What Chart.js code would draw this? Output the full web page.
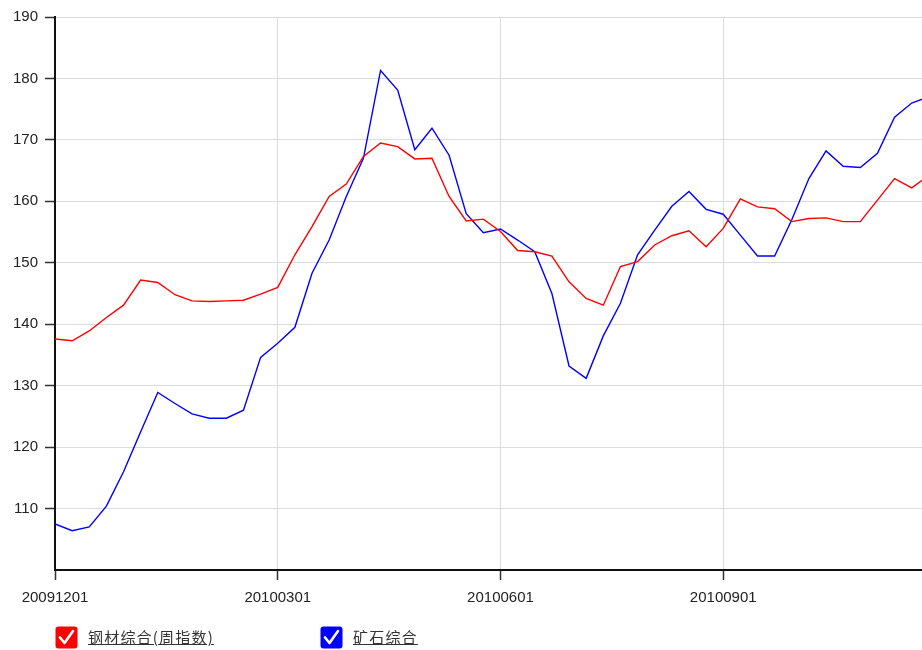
<!DOCTYPE html>
<html>
<head>
<meta charset="utf-8">
<script src="https://cdn.jsdelivr.net/npm/chart.js@4.4.1/dist/chart.umd.min.js"></script>
<style>
  html, body { margin: 0; padding: 0; background: #fff; }
  #wrap { position: relative; width: 922px; height: 650px; overflow: hidden; }
  #legend { position: absolute; left: 0; top: 0; width: 922px; height: 650px; pointer-events: none; }
  .item { position: absolute; top: 625px; height: 24px; display: flex; align-items: center; }
  .item .txt { margin-left: 10px; font-family: "Noto Sans CJK SC", sans-serif; font-size: 15px; letter-spacing: 1.2px;
               color: #333; text-decoration: underline; line-height: 24px; }
</style>
</head>
<body>
<div id="wrap">
  <canvas id="c" width="922" height="650"></canvas>
  <div id="legend"></div>
</div>
<script>
// ---- data ----
const seriesNames = ['钢材综合(周指数)', '矿石综合'];
const steelIndex = [137.6,137.3,138.9,141.1,143.1,147.2,146.8,144.8,143.8,143.7,143.8,143.9,144.9,146.0,
  151.3,155.9,160.8,162.8,167.3,169.5,168.9,166.9,167.0,160.8,156.8,157.1,155.1,152.0,151.8,151.1,
  146.9,144.2,143.1,149.4,150.2,152.9,154.4,155.2,152.6,155.6,160.4,159.1,158.8,156.7,157.2,157.3,
  156.7,156.7,160.2,163.7,162.2,164.2];
const oreIndex = [107.5,106.4,107.0,110.4,116.0,122.5,128.9,127.1,125.4,124.7,124.7,126.0,134.6,136.9,
  139.5,148.3,153.7,160.8,167.0,181.3,178.1,168.4,171.9,167.5,158.0,154.9,155.5,153.7,151.8,145.0,
  133.2,131.2,138.1,143.4,151.3,155.3,159.2,161.6,158.7,157.9,154.5,151.1,151.1,157.0,163.7,168.2,
  165.7,165.5,167.8,173.7,176.0,177.0];
const xTickIndex = [0, 13, 26, 39];
const xTickLabels = ['20091201', '20100301', '20100601', '20100901'];
const yTickValues = [110, 120, 130, 140, 150, 160, 170, 180, 190];
const xMax = 50.6;

const colors = ['#ff0000', '#0000ff'];
const tickFont = { family: 'Liberation Sans, Arial, sans-serif', size: 15 };

function toPoints(arr) { return arr.map((v, i) => ({ x: i, y: v })); }

const htmlLegend = {
  id: 'htmlLegend',
  afterUpdate(chart) {
    const box = document.getElementById('legend');
    box.innerHTML = '';
    const lefts = [55, 320];
    chart.data.datasets.forEach((ds, i) => {
      const it = document.createElement('div');
      it.className = 'item';
      it.style.left = lefts[i] + 'px';
      it.innerHTML =
        '<svg width="23" height="23" viewBox="0 0 23 23">' +
        '<rect x="0.5" y="0.5" width="22" height="22" rx="3" ry="3" fill="' + ds.borderColor + '"/>' +
        '<path d="M5 11.5 L9.5 17 L18 5" fill="none" stroke="#fff" stroke-width="2.6" stroke-linecap="round" stroke-linejoin="round"/>' +
        '</svg>';
      const t = document.createElement('span');
      t.className = 'txt';
      t.textContent = ds.label;
      it.appendChild(t);
      box.appendChild(it);
    });
  }
};

new Chart(document.getElementById('c'), {
  type: 'line',
  data: {
    datasets: [
      { label: seriesNames[0], data: toPoints(steelIndex), borderColor: colors[0], borderWidth: 1.4,
        pointRadius: 0, tension: 0, fill: false },
      { label: seriesNames[1], data: toPoints(oreIndex), borderColor: colors[1], borderWidth: 1.4,
        pointRadius: 0, tension: 0, fill: false }
    ]
  },
  options: {
    responsive: false,
    animation: false,
    events: [],
    layout: { padding: { top: 17, right: 0, left: 0, bottom: 0 } },
    plugins: { legend: { display: false }, tooltip: { enabled: false } },
    scales: {
      x: {
        type: 'linear', min: 0, max: xMax,
        afterBuildTicks: s => { s.ticks = xTickIndex.map(v => ({ value: v })); },
        afterFit: s => { s.height = 80; },
        ticks: {
          autoSkip: false, maxRotation: 0, padding: 9, color: '#222', font: tickFont,
          callback: v => { const k = xTickIndex.indexOf(v); return k >= 0 ? xTickLabels[k] : ''; }
        },
        grid: { color: '#dcdcdc', lineWidth: 1, tickLength: 10, tickColor: '#333', tickWidth: 1.5 },
        border: { color: '#111', width: 2 }
      },
      y: {
        min: 100, max: 190,
        afterBuildTicks: s => { s.ticks = yTickValues.map(v => ({ value: v })); },
        afterFit: s => { s.width = 55; },
        ticks: { padding: 7, color: '#222', font: tickFont },
        grid: { color: '#dcdcdc', lineWidth: 1, tickLength: 10, tickColor: '#333', tickWidth: 1.5 },
        border: { color: '#111', width: 2 }
      }
    }
  },
  plugins: [htmlLegend]
});
</script>
</body>
</html>
